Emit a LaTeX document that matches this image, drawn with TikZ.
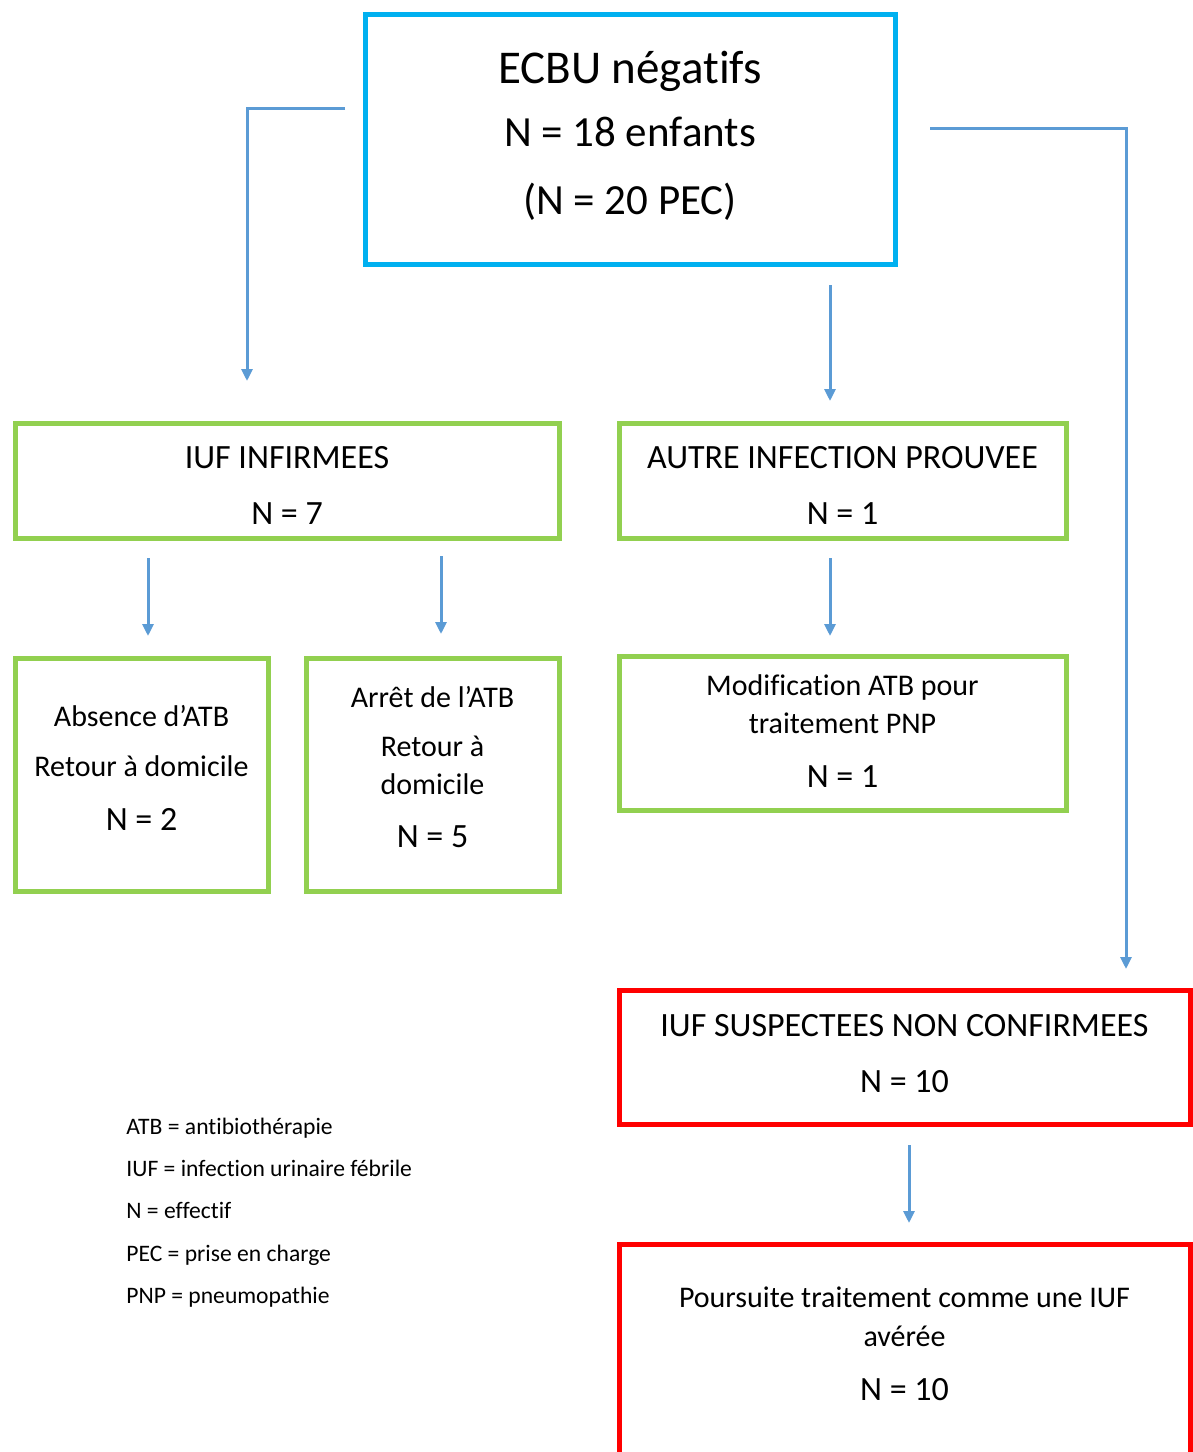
\documentclass[tikz,border=0pt]{standalone}
\usepackage{fontspec}
\setmainfont{Carlito}[Ligatures=NoCommon]
\usetikzlibrary{arrows.meta}
\definecolor{boxblue}{HTML}{00B0F0}
\definecolor{boxgreen}{HTML}{92D050}
\definecolor{boxred}{HTML}{FF0000}
\definecolor{arrowblue}{HTML}{5B9BD5}
\begin{document}
\begin{tikzpicture}[x=0.5pt,y=-0.5pt,
  box/.style={draw, line width=2.5pt, inner sep=0pt, rectangle},
  bbox/.style={box, draw=boxblue},
  gbox/.style={box, draw=boxgreen},
  rbox/.style={box, draw=boxred},
  line/.style={anchor=base, inner sep=0pt, text=black},
  tA/.style={line, font=\fontsize{23.5}{28}\selectfont},
  tB/.style={line, font=\fontsize{21.5}{26}\selectfont},
  tN/.style={line, font=\fontsize{17}{20}\selectfont},
  tS/.style={line, font=\fontsize{15}{18}\selectfont},
  legend/.style={font=\fontsize{11.8}{14}\selectfont, anchor=base west, inner sep=0pt},
  arr/.style={draw=arrowblue, line width=1.5pt, -{Triangle[length=6pt,width=5.5pt]}}]
\useasboundingbox (0,0) rectangle (1193,1452);
\clip (0,0) rectangle (1193,1452);
\fill[white] (0,0) rectangle (1193,1452);

% boxes
\node[bbox, minimum width=265pt, minimum height=125pt] (top) at (630,139) {};
\node[gbox, minimum width=272pt, minimum height=57.5pt] (inf) at (287,480.5) {};
\node[gbox, minimum width=223.5pt, minimum height=57.5pt] (autre) at (842.5,480.5) {};
\node[gbox, minimum width=126.5pt, minimum height=116.5pt] (abs) at (141.5,774.5) {};
\node[gbox, minimum width=126.5pt, minimum height=116.5pt] (arret) at (432.5,774.5) {};
\node[gbox, minimum width=223.5pt, minimum height=77pt] (modif) at (842.5,733) {};
\node[rbox, minimum width=285.5pt, minimum height=67pt] (susp) at (904.5,1057) {};
\node[rbox, minimum width=285.5pt, minimum height=128pt] (pours) at (904.5,1372) {};

% box texts
\node[tA] (top1) at (630,83) {ECBU négatifs};
\node[tB] (top2) at (630,146) {N = 18 enfants};
\node[tB] (top3) at (630,214) {(N = 20 PEC)};

\node[tN] (inf1) at (287,468) {IUF INFIRMEES};
\node[tN] (inf2) at (287,524) {N = 7};

\node[tN] (autre1) at (842.5,468) {AUTRE INFECTION PROUVEE};
\node[tN] (autre2) at (842.5,524) {N = 1};

\node[tS] (abs1) at (141.5,726) {Absence d’ATB};
\node[tS] (abs2) at (141.5,776) {Retour à domicile};
\node[tN] (abs3) at (141.5,830) {N = 2};

\node[tS] (arret1) at (432.5,707) {Arrêt de l’ATB};
\node[tS] (arret2) at (432.5,756) {Retour à};
\node[tS] (arret3) at (432.5,794) {domicile};
\node[tN] (arret4) at (432.5,847) {N = 5};

\node[tS] (modif1) at (842.5,695) {Modification ATB pour};
\node[tS] (modif2) at (842.5,733) {traitement PNP};
\node[tN] (modif3) at (842.5,787) {N = 1};

\node[tN] (susp1) at (904.5,1036) {IUF SUSPECTEES NON CONFIRMEES};
\node[tN] (susp2) at (904.5,1092) {N = 10};

\node[tS] (pours1) at (904.5,1307) {Poursuite traitement comme une IUF};
\node[tS] (pours2) at (904.5,1346) {avérée};
\node[tN] (pours3) at (904.5,1400) {N = 10};

% legend
\node[legend] (l1) at (126,1134) {ATB = antibiothérapie};
\node[legend] (l2) at (126,1176) {IUF = infection urinaire fébrile};
\node[legend] (l3) at (126,1218) {N = effectif};
\node[legend] (l4) at (126,1261) {PEC = prise en charge};
\node[legend] (l5) at (126,1303) {PNP = pneumopathie};

% connector end points
\coordinate (a1s) at (345,108);
\coordinate (a1e) at (247,381);
\coordinate (a2s) at (830,285);
\coordinate (a2e) at (830,401);
\coordinate (a3s) at (930,128);
\coordinate (a3e) at (1126,969);
\coordinate (a4s) at (148,558);
\coordinate (a4e) at (148,636);
\coordinate (a5s) at (441,556);
\coordinate (a5e) at (441,634);
\coordinate (a6s) at (830,558);
\coordinate (a6e) at (830,636);
\coordinate (a7s) at (909,1145);
\coordinate (a7e) at (909,1223);

\draw[arr] (a1s) -| (a1e);
\draw[arr] (a2s) -- (a2e);
\draw[arr] (a3s) -| (a3e);
\draw[arr] (a4s) -- (a4e);
\draw[arr] (a5s) -- (a5e);
\draw[arr] (a6s) -- (a6e);
\draw[arr] (a7s) -- (a7e);
\end{tikzpicture}
\end{document}
